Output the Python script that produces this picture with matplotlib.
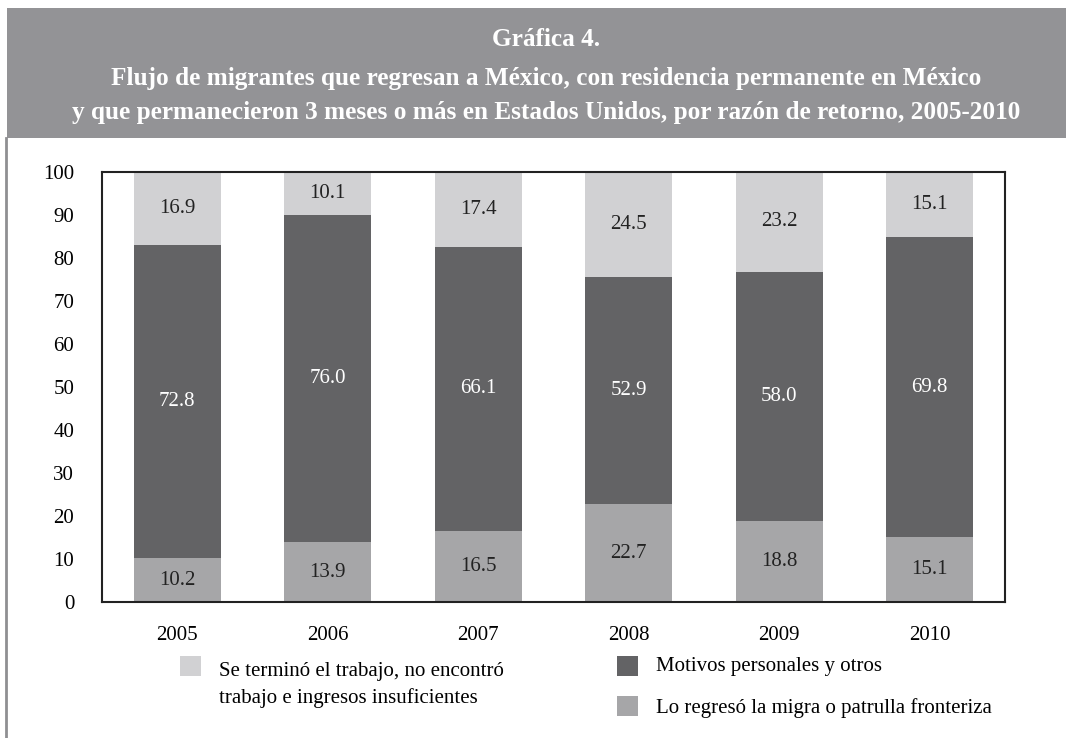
import numpy as np
import matplotlib.pyplot as plt
from matplotlib.patches import Rectangle
from matplotlib.lines import Line2D

plt.rcParams['font.family'] = ['Liberation Serif', 'DejaVu Serif']

years = ['2005', '2006', '2007', '2008', '2009', '2010']
migra = [10.2, 13.9, 16.5, 22.7, 18.8, 15.1]
personal = [72.8, 76.0, 66.1, 52.9, 58.0, 69.8]
trabajo = [16.9, 10.1, 17.4, 24.5, 23.2, 15.1]

lbl_trabajo = 'Se terminó el trabajo, no encontró\ntrabajo e ingresos insuficientes'
lbl_personal = 'Motivos personales y otros'
lbl_migra = 'Lo regresó la migra o patrulla fronteriza'

c_light = '#d1d1d3'
c_dark = '#636365'
c_mid = '#a6a6a8'
c_head = '#939396'

fig = plt.figure(figsize=(10.66, 7.38), dpi=100)

# header band and left border
fig.add_artist(Rectangle((7 / 1066, 1 - 138 / 738), 1, 130 / 738,
                         transform=fig.transFigure, color=c_head, lw=0))
fig.add_artist(Line2D([6 / 1066, 6 / 1066], [0, 1 - 138 / 738],
                      transform=fig.transFigure, color='#8f8f92', lw=2))
title_lines = [
    'Gráfica 4.',
    'Flujo de migrantes que regresan a México, con residencia permanente en México',
    'y que permanecieron 3 meses o más en Estados Unidos, por razón de retorno, 2005-2010',
]
for ty, t in zip([40, 78, 113], title_lines):
    fig.text(546 / 1066, 1 - ty / 738, t, ha='center', va='center',
             color='white', fontsize=18.2, fontweight='bold')

ax = fig.add_axes([102 / 1066, 136 / 738, 903 / 1066, 430 / 738])
x = np.arange(len(years))
w = 0.58
b1 = ax.bar(x, migra, w, color=c_mid)
b2 = ax.bar(x, personal, w, bottom=migra, color=c_dark)
b3 = ax.bar(x, trabajo, w, bottom=np.add(migra, personal), color=c_light)

ax.bar_label(b1, labels=[f'{v:.1f}' for v in migra], label_type='center', fontsize=15, color='#222222')
ax.bar_label(b2, labels=[f'{v:.1f}' for v in personal], label_type='center', fontsize=15, color='white')
ax.bar_label(b3, labels=[f'{v:.1f}' for v in trabajo], label_type='center', fontsize=15, color='#222222')

ax.set_xlim(-0.5, len(years) - 0.5)
ax.set_ylim(0, 100)
ax.set_yticks(range(0, 101, 10))
ax.set_xticks(x)
ax.set_xticklabels(years)
ax.tick_params(axis='both', length=0, labelsize=15)
ax.tick_params(axis='y', pad=20)
ax.tick_params(axis='x', pad=17)
for s in ax.spines.values():
    s.set_linewidth(1.5)
    s.set_color('#222222')

# legend
def legend_item(px, py, color, text, ty):
    fig.add_artist(Rectangle((px / 1066, 1 - (py + 20) / 738), 21 / 1066, 20 / 738,
                             transform=fig.transFigure, color=color, lw=0))
    fig.text((px + 39) / 1066, 1 - ty / 738, text, ha='left', va='center',
             fontsize=15, linespacing=1.45)

legend_item(180, 656, c_light, lbl_trabajo, 685)
legend_item(617, 656, c_dark, lbl_personal, 666)
legend_item(617, 696, c_mid, lbl_migra, 708)

fig.savefig('out.png', dpi=100)
